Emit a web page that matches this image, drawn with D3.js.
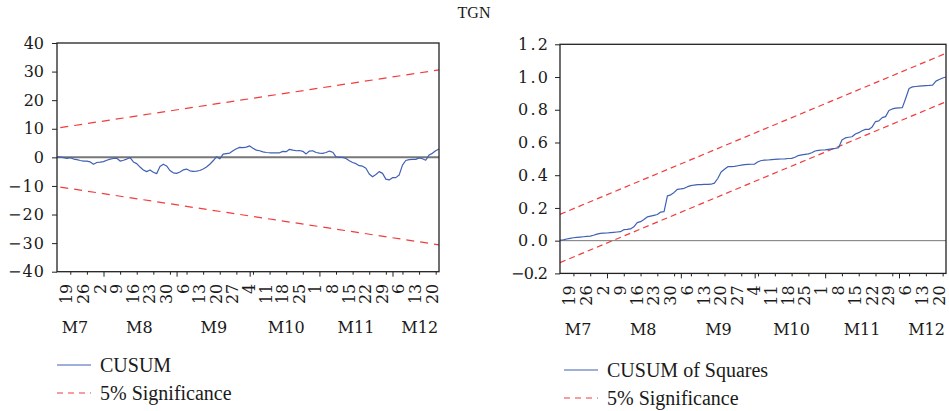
<!DOCTYPE html>
<html><head><meta charset="utf-8">
<script src="https://cdn.jsdelivr.net/npm/d3@7"></script>
<style>
body{margin:0;background:#fff}
svg{display:block}
text{font-family:"Liberation Serif","Times New Roman",serif;fill:#1a1a1a}
text.tk{font-family:"DejaVu Serif",serif}
</style>
</head><body>
<svg id="chart" width="949" height="411"></svg>
<script>
// ---------------- data ----------------
const title = "TGN";
// CUSUM (observation index 0..115)
const cusumValues = [
  0.2, 0.1, -0.1, -0.35, -0.1, -0.6, -0.8, -1.1, -1.3, -1.3,
  -1.6, -2.4, -1.8, -1.7, -1.5, -1.0, -0.6, -0.4, -0.3, -1.3,
  -1.0, -0.6, -0.1, -1.6, -2.2, -3.4, -4.4, -5.0, -4.4, -5.2,
  -5.7, -3.2, -2.4, -3.0, -4.6, -5.4, -5.6, -5.1, -4.4, -4.1,
  -4.7, -4.9, -4.8, -4.6, -4.1, -3.4, -2.4, -1.2, 0.2, -0.5,
  1.1, 1.3, 1.5, 2.3, 3.0, 3.5, 3.4, 3.6, 4.0, 3.2,
  2.5, 2.3, 1.9, 1.7, 1.6, 1.6, 1.6, 1.6, 2.1, 2.0, 2.8,
  2.5, 2.3, 2.4, 2.1, 1.2, 2.2, 2.3, 1.7, 1.5, 1.4,
  1.7, 2.2, 1.8, 0.2, 0.0, 0.0, -0.4, -1.2, -1.8, -2.2,
  -2.9, -3.1, -3.8, -5.8, -6.8, -6.0, -5.0, -5.6, -7.6, -7.9,
  -7.1, -7.1, -6.2, -2.7, -1.1, -0.8, -0.7, -0.7, -0.2, -0.5,
  -1.0, 0.8, 1.4, 2.3, 2.9
];
// CUSUM of squares (observation index 0..115)
const cusumSqValues = [
  0.003, 0.005, 0.01, 0.014, 0.018, 0.02, 0.022, 0.024, 0.026, 0.028,
  0.033, 0.04, 0.045, 0.046, 0.047, 0.049, 0.051, 0.053, 0.055, 0.067,
  0.069, 0.072, 0.085, 0.11, 0.116, 0.13, 0.145, 0.15, 0.155, 0.16,
  0.175, 0.177, 0.274, 0.28, 0.295, 0.314, 0.316, 0.32, 0.33, 0.336,
  0.34, 0.342, 0.343, 0.344, 0.344, 0.345, 0.352, 0.38, 0.42, 0.436,
  0.452, 0.453, 0.454, 0.458, 0.462, 0.465, 0.466, 0.467, 0.468, 0.482,
  0.49, 0.492, 0.493, 0.495, 0.497, 0.498, 0.499, 0.5, 0.502, 0.503, 0.51,
  0.52, 0.524, 0.527, 0.53, 0.537, 0.548, 0.552, 0.554, 0.555, 0.558,
  0.561, 0.564, 0.568, 0.615, 0.628, 0.632, 0.635, 0.652, 0.66, 0.672,
  0.68, 0.68, 0.695, 0.728, 0.732, 0.752, 0.758, 0.795, 0.805, 0.81,
  0.812, 0.813, 0.87, 0.93, 0.94, 0.942, 0.944, 0.946, 0.948, 0.949,
  0.951, 0.975, 0.985, 0.994, 1.0
];
// 5% significance bounds (end points: [obs index, value])
const cusumUpper = [[1, 10.4], [115, 30.6]];
const cusumLower = [[1, -10.4], [115, -30.6]];
const sqUpper = [[0, 0.161], [115, 1.145]];
const sqLower = [[0, -0.134], [115, 0.849]];

// x-axis: weekly day labels and their observation index
const dayLabels = ["19","26","2","9","16","23","30","6","13","20","27","4","11","18","25","1","8","15","22","29","6","13","20"];
const dayIndex = [4,9,14,19,24,29,34,39,44,49,54,59,64,69,74,79,84,89,94,99,104,109,114];
const monthLabels = ["M7","M8","M9","M10","M11","M12"];
const monthStart = [0,14,36,58,79,101];
const monthLabelIndex = [5.4,24.8,47.2,69,90,109.2];
const lastIndex = 115;

const cusumTicks = [-40,-30,-20,-10,0,10,20,30,40];
const cusumTickLabels = ["\u221240","\u221230","\u221220","\u221210","0","10","20","30","40"];
const sqTicks = [-0.2,0,0.2,0.4,0.6,0.8,1.0,1.2];
const sqTickLabels = ["\u22120.2","0.0","0.2","0.4","0.6","0.8","1.0","1.2"];

const legendLeft = ["CUSUM","5% Significance"];
const legendRight = ["CUSUM of Squares","5% Significance"];

// ---------------- drawing ----------------
const svg = d3.select("#chart");
const BLUE = "#4160b4", RED = "#f23c3c";

svg.append("text").attr("x", 474).attr("y", 18).attr("text-anchor","middle")
  .style("font-size","16px").text(title);

function panel(cfg){
  const g = svg.append("g");
  const x = d3.scaleLinear().domain([0,lastIndex]).range([cfg.x0,cfg.x1]);
  const y = d3.scaleLinear().domain(cfg.domain).range([cfg.y1,cfg.y0]);

  // y axis
  const ya = d3.axisLeft(y).tickValues(cfg.ticks).tickSize(5).tickPadding(cfg.pad)
     .tickFormat((d,i)=>cfg.tickLabels[i]);
  const yg = g.append("g").attr("transform",`translate(${cfg.x0},0)`).call(ya);
  yg.select(".domain").remove();
  yg.selectAll("line").attr("stroke","#222");
  yg.selectAll("text").attr("class","tk").style("font-size","16px").attr("fill","#1a1a1a")
    .each(function(d,i){
      const w = cfg.widths(cfg.tickLabels[i]);
      if (w) d3.select(this).attr("textLength",w).attr("lengthAdjust","spacing");
    });

  // x minor ticks
  const minor = dayIndex.filter(d=>!monthStart.includes(d));
  const xa = d3.axisBottom(x).tickValues(minor).tickSize(3).tickFormat("");
  const xg = g.append("g").attr("transform",`translate(0,${cfg.y1})`).call(xa);
  xg.select(".domain").remove();
  xg.selectAll("line").attr("stroke","#222");
  const xb = d3.axisBottom(x).tickValues(monthStart.slice(1)).tickSize(5).tickFormat("");
  const xbg = g.append("g").attr("transform",`translate(0,${cfg.y1})`).call(xb);
  xbg.select(".domain").remove();
  xbg.selectAll("line").attr("stroke","#222");

  // day labels (rotated)
  g.selectAll("text.day").data(dayLabels).enter().append("text")
    .attr("class","day tk")
    .attr("transform",(d,i)=>`translate(${x(dayIndex[i])-3.5},${cfg.y1+12}) rotate(-90)`)
    .attr("text-anchor","end").attr("dominant-baseline","central")
    .style("font-size","16px").text(d=>d);

  // month labels
  g.selectAll("text.mon").data(monthLabels).enter().append("text")
    .attr("class","mon tk")
    .attr("x",(d,i)=>x(monthLabelIndex[i]))
    .attr("y",cfg.monthY).attr("text-anchor","middle")
    .style("font-size","16px").text(d=>d);

  // zero line
  g.append("line").attr("x1",cfg.x0).attr("x2",cfg.x1).attr("y1",y(0)).attr("y2",y(0))
    .attr("stroke","#777").attr("stroke-width",cfg.zeroW);

  // bounds
  const bl = d3.line().x(d=>x(d[0])).y(d=>y(d[1]));
  [cfg.upper,cfg.lower].forEach(b=>{
    g.append("path").attr("d",bl(b)).attr("fill","none").attr("stroke",RED)
     .attr("stroke-width",1.2).attr("stroke-dasharray",cfg.dash);
  });

  // series
  const sl = d3.line().x((d,i)=>x(i)).y(d=>y(d));
  g.append("path").attr("d",sl(cfg.values)).attr("fill","none").attr("stroke",BLUE)
    .attr("stroke-width",1.2).attr("stroke-linejoin","round");

  // frame
  g.append("rect").attr("x",cfg.x0).attr("y",cfg.y0).attr("width",cfg.x1-cfg.x0)
    .attr("height",cfg.y1-cfg.y0).attr("fill","none").attr("stroke","#222").attr("stroke-width",1.3);

  // legend
  const L = cfg.legend;
  g.append("line").attr("x1",L.x).attr("x2",L.x+34).attr("y1",L.y).attr("y2",L.y)
    .attr("stroke",BLUE).attr("stroke-width",1.2);
  g.append("line").attr("x1",L.x).attr("x2",L.x+34).attr("y1",L.y+28).attr("y2",L.y+28)
    .attr("stroke",RED).attr("stroke-width",1.2).attr("stroke-dasharray","6,5");
  g.selectAll("text.leg").data(cfg.legendText).enter().append("text").attr("class","leg")
    .attr("x",L.x+43).attr("y",(d,i)=>L.y+i*28).attr("dominant-baseline","central")
    .style("font-size","20px").text(d=>d);
}

panel({x0:57,x1:439,y0:43,y1:271.7,domain:[-40,40],ticks:cusumTicks,tickLabels:cusumTickLabels,
  pad:8,widths:s=>s.startsWith("\u2212")?36:0,
  values:cusumValues,upper:cusumUpper,lower:cusumLower,dash:"8,6",zeroW:2,monthY:333,
  legend:{x:57,y:365},legendText:legendLeft});
panel({x0:560,x1:946,y0:44.3,y1:273.4,domain:[-0.2,1.2],ticks:sqTicks,tickLabels:sqTickLabels,
  pad:7,widths:s=>s.startsWith("\u2212")?37:30,
  values:cusumSqValues,upper:sqUpper,lower:sqLower,dash:"6,4",zeroW:1,monthY:335,
  legend:{x:564,y:370},legendText:legendRight});
</script>
</body></html>
